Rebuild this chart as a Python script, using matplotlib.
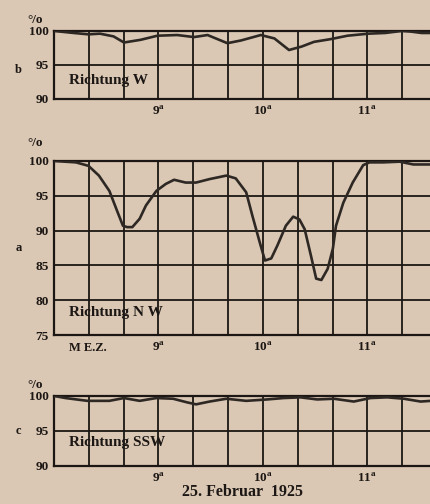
import matplotlib
matplotlib.use("Agg")
from matplotlib import pyplot as plt
import numpy as np

# time in hours (MEZ), values in %
t_w = [8.0, 8.19, 8.33, 8.44, 8.57, 8.67, 8.83, 8.99, 9.18, 9.34, 9.47, 9.66, 9.79,
       9.98, 10.11, 10.25, 10.37, 10.49, 10.65, 10.81, 11.01, 11.17, 11.33, 11.42,
       11.52, 11.62]
v_w = [100.0, 99.7, 99.5, 99.6, 99.2, 98.3, 98.7, 99.3, 99.4, 99.1, 99.4, 98.2, 98.6,
       99.4, 98.9, 97.2, 97.7, 98.4, 98.8, 99.3, 99.6, 99.7, 100.0, 99.9, 99.7, 99.7]

t_nw = [8.0, 8.21, 8.33, 8.43, 8.53, 8.61, 8.66, 8.70, 8.75, 8.82, 8.88, 8.98, 9.07,
        9.15, 9.26, 9.36, 9.49, 9.65, 9.74, 9.84, 9.90, 9.97, 10.02, 10.08, 10.14,
        10.22, 10.29, 10.35, 10.40, 10.46, 10.51, 10.56, 10.62, 10.67, 10.70, 10.77,
        10.86, 10.96, 11.02, 11.15, 11.31, 11.44, 11.60]
v_nw = [100.0, 99.8, 99.3, 97.9, 95.7, 92.6, 90.7, 90.5, 90.5, 91.7, 93.6, 95.7, 96.7,
        97.3, 96.9, 96.9, 97.4, 97.9, 97.5, 95.5, 92.1, 88.3, 85.7, 86.0, 87.9,
        90.7, 92.0, 91.6, 90.2, 86.4, 83.1, 82.9, 84.5, 87.4, 90.7, 94.0,
        96.9, 99.4, 99.8, 99.8, 99.9, 99.5, 99.5]

t_ssw = [8.0, 8.11, 8.32, 8.53, 8.67, 8.82, 8.98, 9.14, 9.27, 9.36, 9.49, 9.65, 9.84,
         10.04, 10.20, 10.36, 10.52, 10.68, 10.87, 11.03, 11.19, 11.35, 11.51, 11.61]
v_ssw = [100.0, 99.7, 99.3, 99.3, 99.7, 99.3, 99.7, 99.6, 99.1, 98.8, 99.2, 99.6, 99.3,
         99.5, 99.7, 99.8, 99.5, 99.6, 99.2, 99.7, 99.8, 99.6, 99.2, 99.3]

hour_ticks = [9, 10, 11]
hour_labels = ["9$^{\\mathrm{a}}$", "10$^{\\mathrm{a}}$", "11$^{\\mathrm{a}}$"]

bg = "#dac8b4"
ink = "#1c1714"
plt.rcParams["font.family"] = ["Liberation Serif", "DejaVu Serif"]
plt.rcParams["font.weight"] = "bold"
plt.rcParams["mathtext.fontset"] = "custom"
plt.rcParams["mathtext.rm"] = "Liberation Serif:bold"

fig = plt.figure(figsize=(4.3, 5.04), dpi=100, facecolor=bg)

panels = [
    # rect, t, v, ylim, yticks, letter, text, text y (axes frac), letter y
    ([0.1256, 0.8036, 0.8744, 0.135], t_w, v_w, (90, 100), [90, 95, 100], "b",
     "Richtung W", 0.27, 0.42),
    ([0.1256, 0.3353, 0.8744, 0.3453], t_nw, v_nw, (75, 100), [75, 80, 85, 90, 95, 100], "a",
     "Richtung N W", 0.13, 0.5),
    ([0.1256, 0.0754, 0.8744, 0.139], t_ssw, v_ssw, (90, 100), [90, 95, 100], "c",
     "Richtung SSW", 0.33, 0.5),
]

for rect, t, v, ylim, yt, letter, txt, ty, ly in panels:
    ax = fig.add_axes(rect)
    ax.set_facecolor(bg)
    ax.set_xlim(8.0, 11.6)
    ax.set_ylim(*ylim)
    for x in np.arange(8.0, 11.7, 1 / 3):
        ax.axvline(x, color=ink, lw=1.3, zorder=1)
    for y in yt:
        ax.axhline(y, color=ink, lw=1.3, zorder=1)
    ax.plot(t, v, color="#2e2824", lw=1.9, solid_joinstyle="round", zorder=3)
    for s in ["left", "top", "bottom"]:
        ax.spines[s].set_color(ink)
        ax.spines[s].set_linewidth(1.6)
    ax.spines["right"].set_visible(False)
    ax.set_yticks(yt)
    ax.set_yticklabels([str(y) for y in yt], fontsize=9.5, color=ink, fontweight="bold")
    ax.set_xticks(hour_ticks)
    ax.set_xticklabels(hour_labels, fontsize=9.5, color=ink)
    ax.tick_params(length=0, pad=4)
    ax.text(-0.05, 1.07, "°/o", transform=ax.transAxes, fontsize=9.5, color=ink,
            ha="center", va="bottom")
    ax.text(-0.095, ly, letter, transform=ax.transAxes, fontsize=9, color=ink,
            ha="center", va="center")
    ax.text(0.04, ty, txt, transform=ax.transAxes, fontsize=11, color=ink,
            ha="left", va="center")
    if letter == "a":
        ax.text(0.04, -0.075, "M E.Z.", transform=ax.transAxes, fontsize=9, color=ink,
                ha="left", va="center")

fig.text(0.565, 0.024, "25. Februar  1925", fontsize=11.5, color=ink, ha="center", va="center")

fig.savefig("out.png", dpi=100, facecolor=bg)
